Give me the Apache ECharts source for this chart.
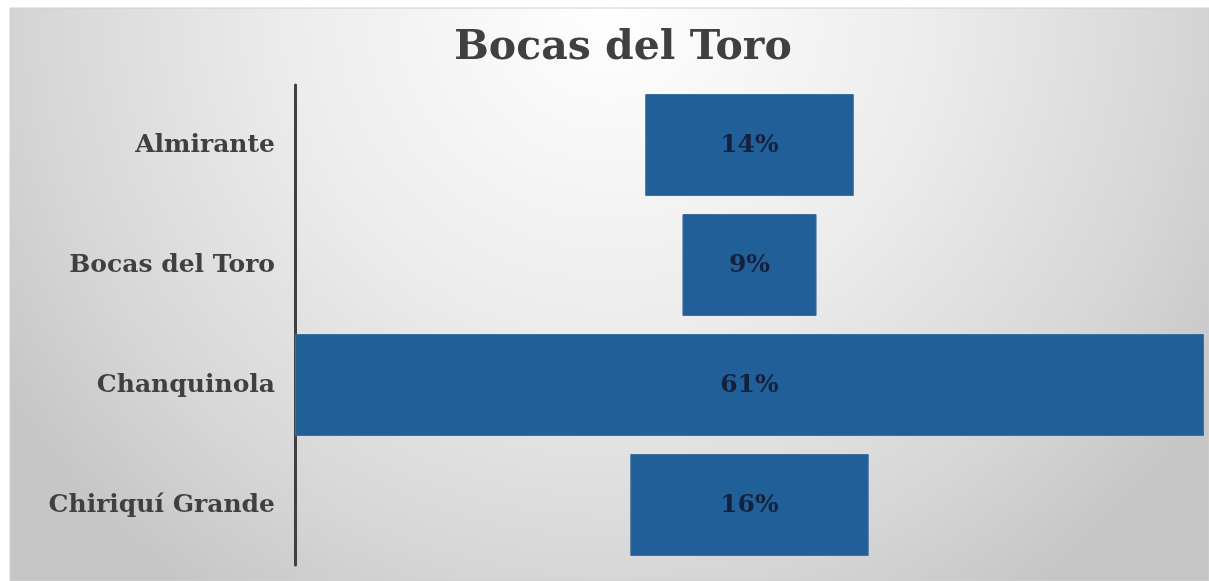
<!DOCTYPE html>
<html>
<head>
<meta charset="utf-8">
<script src="https://cdn.jsdelivr.net/npm/echarts@6/dist/echarts.min.js"></script>
<style>
html, body { margin: 0; padding: 0; background: #fff; }
#chart { width: 1209px; height: 581px; }
</style>
</head>
<body>
<div id="chart"></div>
<script>
var categories = ['Almirante', 'Bocas del Toro', 'Chanquinola', 'Chiriquí Grande'];
var shares = [14, 9, 61, 16];
var maxShare = 61;

// invisible offset so each bar sits centred, like a funnel
var offsets = shares.map(function (v) { return (maxShare - v) / 2; });

var myChart = echarts.init(document.getElementById('chart'));
var serif = '"DejaVu Serif", "Liberation Serif", serif';

var option = {
  animation: false,
  graphic: [{
    type: 'rect',
    z: -10,
    shape: { x: 10, y: 8, width: 1199, height: 573 },
    style: {
      fill: new echarts.graphic.RadialGradient(0.5, 0.0, 1.25, [
        { offset: 0, color: '#ffffff' },
        { offset: 0.45, color: '#ececec' },
        { offset: 0.8, color: '#d6d6d6' },
        { offset: 1, color: '#c6c6c6' }
      ]),
      stroke: '#d0d0d0',
      lineWidth: 1
    }
  }],
  title: {
    text: 'Bocas del Toro',
    left: 618,
    textAlign: 'center',
    top: 23,
    textStyle: { fontFamily: serif, fontSize: 41, fontWeight: 'bold', color: '#404040' }
  },
  grid: { left: 295, right: 5, top: 85, bottom: 16 },
  xAxis: {
    type: 'value',
    min: 0,
    max: maxShare,
    show: false
  },
  yAxis: {
    type: 'category',
    inverse: true,
    data: categories,
    axisLine: { show: true, lineStyle: { color: '#404040', width: 3 } },
    axisTick: { show: false },
    axisLabel: {
      margin: 20,
      fontFamily: serif, fontSize: 25, fontWeight: 'bold', color: '#404040'
    }
  },
  series: [{
    type: 'bar',
    stack: 'f',
    data: offsets,
    barWidth: '85%',
    itemStyle: { color: 'transparent' },
    silent: true
  }, {
    type: 'bar',
    stack: 'f',
    data: shares,
    barWidth: '85%',
    itemStyle: { color: '#215f99', borderColor: '#3f6f9a', borderWidth: 1 },
    label: {
      show: true,
      position: 'inside',
      formatter: '{c}%',
      fontFamily: serif, fontSize: 25, fontWeight: 'bold', color: '#14213d'
    }
  }]
};
myChart.setOption(option);
</script>
</body>
</html>
